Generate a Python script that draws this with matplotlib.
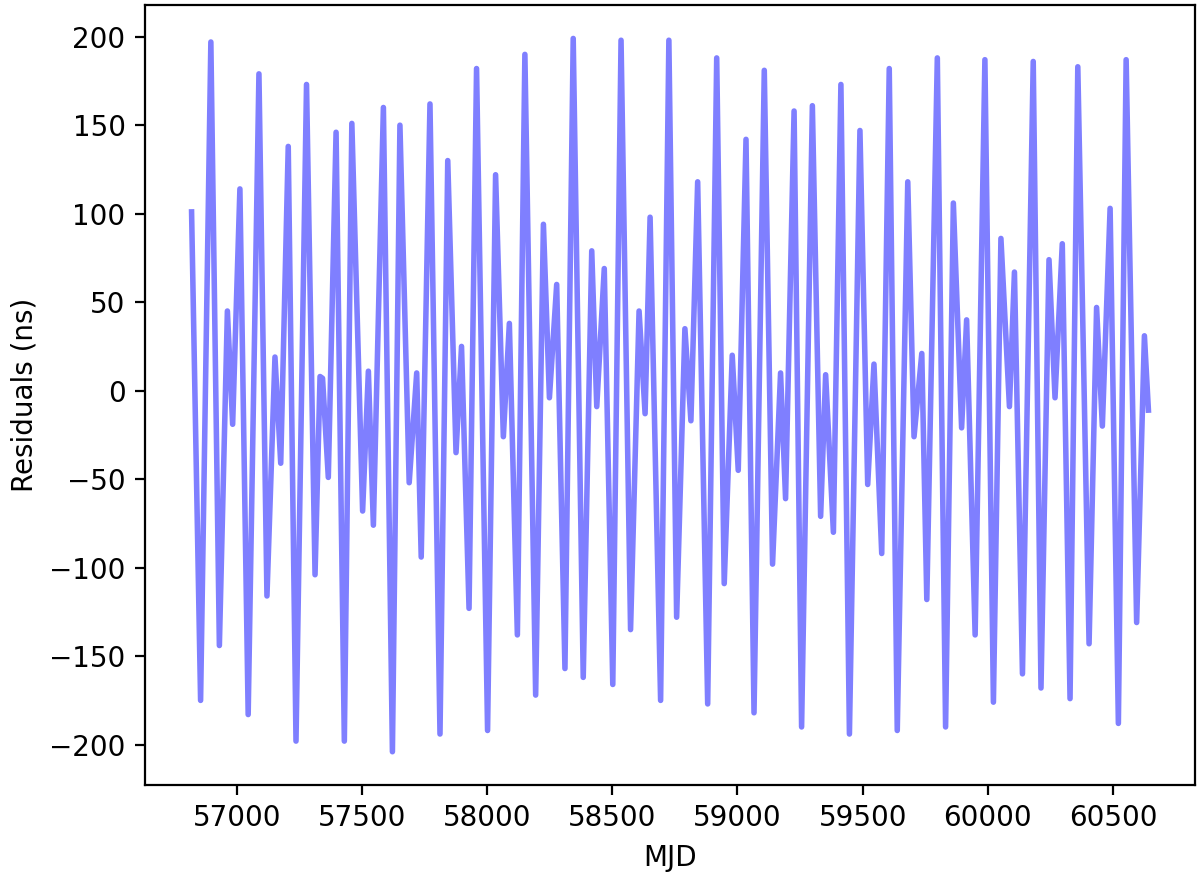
import numpy as np
import matplotlib
matplotlib.use("Agg")
import matplotlib.pyplot as plt

# turning points of the residual curve
mjd = [56820, 56856, 56897, 56931, 56963, 56984, 57013, 57046, 57089, 57121, 57153,
       57176, 57206, 57237, 57279, 57313, 57333, 57343, 57366, 57397, 57430, 57460,
       57503, 57526, 57546, 57586, 57622, 57652, 57689, 57719, 57737, 57772, 57812,
       57843, 57876, 57898, 57928, 57958, 58002, 58034, 58065, 58089, 58121, 58151,
       58194, 58225, 58249, 58278, 58311,
       58344, 58384, 58418, 58438, 58468, 58502, 58535, 58573, 58607, 58631, 58651,
       58693, 58726, 58757, 58790, 58814, 58841, 58881, 58917, 58947, 58979, 59003,
       59034, 59066, 59107, 59140,
       59172, 59192, 59226, 59256, 59299, 59332, 59352, 59383, 59413, 59447, 59489,
       59520, 59545, 59576, 59606, 59638, 59680, 59705, 59736, 59756, 59798, 59831,
       59862, 59895, 59915, 59949, 59988,
       60022, 60052, 60086, 60106, 60138, 60181, 60212, 60244, 60268, 60297, 60328,
       60359, 60404, 60434, 60457, 60488, 60521, 60552, 60594, 60625, 60641]

resid = [101, -175, 197, -144, 45, -19, 114, -183, 179, -116, 19,
         -41, 138, -198, 173, -104, 8, 7, -49, 146, -198, 151,
         -68, 11, -76, 160, -204, 150, -52, 10, -94, 162, -194,
         130, -35, 25, -123, 182, -192, 122, -26, 38, -138, 190,
         -172, 94, -4, 60, -157,
         199, -162, 79, -9, 69, -166, 198, -135, 45, -13, 98,
         -175, 198, -128, 35, -17, 118, -177, 188, -109, 20, -45,
         142, -182, 181, -98,
         10, -61, 158, -190, 161, -71, 9, -80, 173, -194, 147,
         -53, 15, -92, 182, -192, 118, -26, 21, -118, 188, -190,
         106, -21, 40, -138, 187,
         -176, 86, -9, 67, -160, 186, -168, 74, -4, 83, -174,
         183, -143, 47, -20, 103, -188, 187, -131, 31, -11]

fig = plt.figure(figsize=(6.0, 4.405), dpi=200)
ax = fig.add_axes([145 / 1200, 96 / 881, 1050 / 1200, 780 / 881])

ax.plot(mjd, resid, color='b', alpha=0.5, lw=2)
ax.set_xlim(56634, 60827)
ax.set_ylim(-222.8, 217.9)
ax.set_xlabel('MJD')
ax.set_ylabel('Residuals (ns)')

fig.savefig('out.png', dpi=200)
